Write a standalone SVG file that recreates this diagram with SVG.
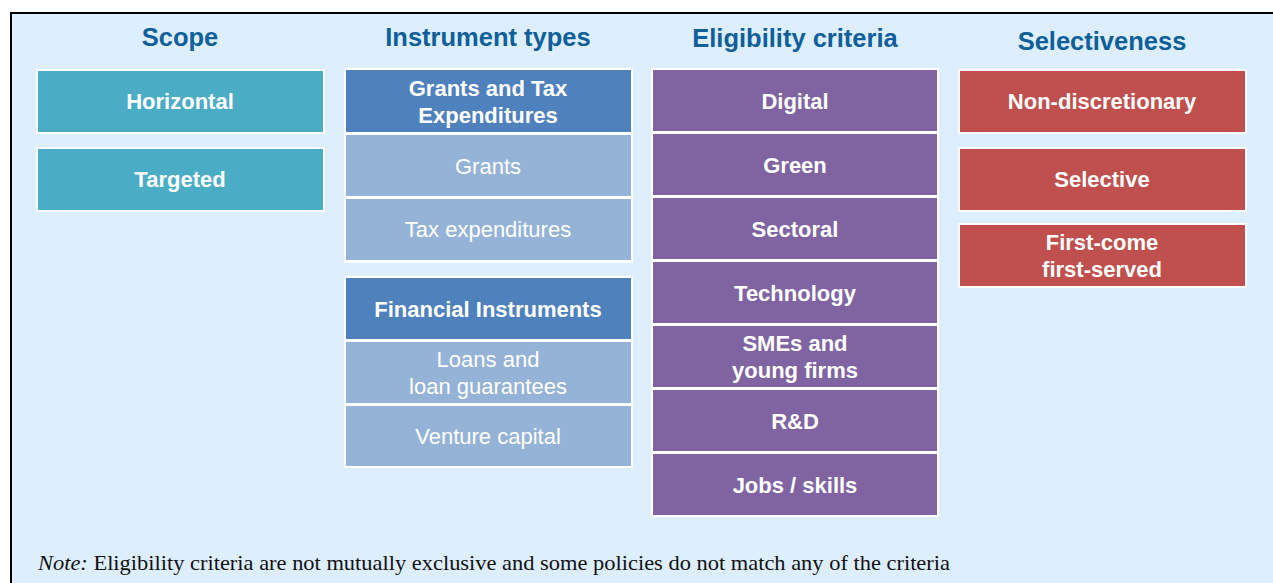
<svg xmlns="http://www.w3.org/2000/svg" width="1273" height="583" viewBox="0 0 1273 583">
<style>
.t{font-family:"Liberation Sans",Arial,sans-serif;font-weight:bold;font-size:25.5px;fill:#0F5F9B;text-anchor:middle}
.b{font-family:"Liberation Sans",Arial,sans-serif;font-weight:bold;font-size:22px;fill:#fff;text-anchor:middle}
.l{font-family:"Liberation Sans",Arial,sans-serif;font-size:22px;fill:#fff;text-anchor:middle}
.box{stroke:#fff;stroke-width:2}
.teal{fill:#4BACC6}.hdr{fill:#4F81BD}.lt{fill:#95B3D7}.pur{fill:#8064A2}.red{fill:#C0504D}
.note{font-family:"Liberation Serif","Times New Roman",serif;font-size:21px;fill:#111}
</style>
<rect x="0" y="0" width="1273" height="583" fill="#fff"/>
<rect x="11" y="13" width="1262" height="570" fill="#DDEEFE"/>
<line x1="10" y1="13" x2="1273" y2="13" stroke="#000" stroke-width="2"/>
<line x1="11" y1="12" x2="11" y2="583" stroke="#000" stroke-width="2"/>

<g id="titles">
<text class="t" x="180" y="46">Scope</text>
<text class="t" x="488" y="46">Instrument types</text>
<text class="t" x="795" y="47">Eligibility criteria</text>
<text class="t" x="1102" y="50">Selectiveness</text>
</g>

<g id="scope">
<g id="horizontal"><rect class="box teal" x="37" y="70" width="287" height="63"/><text class="b" x="180" y="109">Horizontal</text></g>
<g id="targeted"><rect class="box teal" x="37" y="148" width="287" height="63"/><text class="b" x="180" y="187">Targeted</text></g>
</g>

<g id="instruments">
<rect x="344" y="68" width="289" height="195" fill="#fff"/>
<g id="grants-tax"><rect class="box hdr" x="345" y="69" width="287" height="64"/><text class="b" x="488" y="96">Grants and Tax</text><text class="b" x="488" y="123">Expenditures</text></g>
<g id="grants"><rect class="box lt" x="345" y="134" width="287" height="63"/><text class="l" x="488" y="174">Grants</text></g>
<g id="tax"><rect class="box lt" x="345" y="198" width="287" height="63"/><text class="l" x="488" y="237">Tax expenditures</text></g>
<rect x="344" y="276" width="289" height="192" fill="#fff"/>
<g id="financial"><rect class="box hdr" x="345" y="277" width="287" height="63"/><text class="b" x="488" y="317">Financial Instruments</text></g>
<g id="loans"><rect class="box lt" x="345" y="341" width="287" height="63"/><text class="l" x="488" y="367">Loans and</text><text class="l" x="488" y="394">loan guarantees</text></g>
<g id="venture"><rect class="box lt" x="345" y="405" width="287" height="62"/><text class="l" x="488" y="444">Venture capital</text></g>
</g>

<g id="eligibility">
<rect x="651" y="68" width="288" height="449" fill="#fff"/>
<g id="digital"><rect class="box pur" x="652" y="69" width="286" height="63"/><text class="b" x="795" y="109">Digital</text></g>
<g id="green"><rect class="box pur" x="652" y="133" width="286" height="63"/><text class="b" x="795" y="173">Green</text></g>
<g id="sectoral"><rect class="box pur" x="652" y="197" width="286" height="63"/><text class="b" x="795" y="237">Sectoral</text></g>
<g id="technology"><rect class="box pur" x="652" y="261" width="286" height="63"/><text class="b" x="795" y="301">Technology</text></g>
<g id="smes"><rect class="box pur" x="652" y="325" width="286" height="63"/><text class="b" x="795" y="351">SMEs and</text><text class="b" x="795" y="378">young firms</text></g>
<g id="rd"><rect class="box pur" x="652" y="389" width="286" height="63"/><text class="b" x="795" y="429">R&amp;D</text></g>
<g id="jobs"><rect class="box pur" x="652" y="453" width="286" height="63"/><text class="b" x="795" y="493">Jobs / skills</text></g>
</g>

<g id="selectiveness">
<g id="nondisc"><rect class="box red" x="959" y="70" width="287" height="63"/><text class="b" x="1102" y="109">Non-discretionary</text></g>
<g id="selective"><rect class="box red" x="959" y="148" width="287" height="63"/><text class="b" x="1102" y="187">Selective</text></g>
<g id="fcfs"><rect class="box red" x="959" y="224" width="287" height="63"/><text class="b" x="1102" y="250">First-come</text><text class="b" x="1102" y="277">first-served</text></g>
</g>

<g id="connectors"></g>

<text class="note" x="38" y="570" textLength="912" lengthAdjust="spacingAndGlyphs"><tspan font-style="italic">Note:</tspan> Eligibility criteria are not mutually exclusive and some policies do not match any of the criteria</text>
</svg>
